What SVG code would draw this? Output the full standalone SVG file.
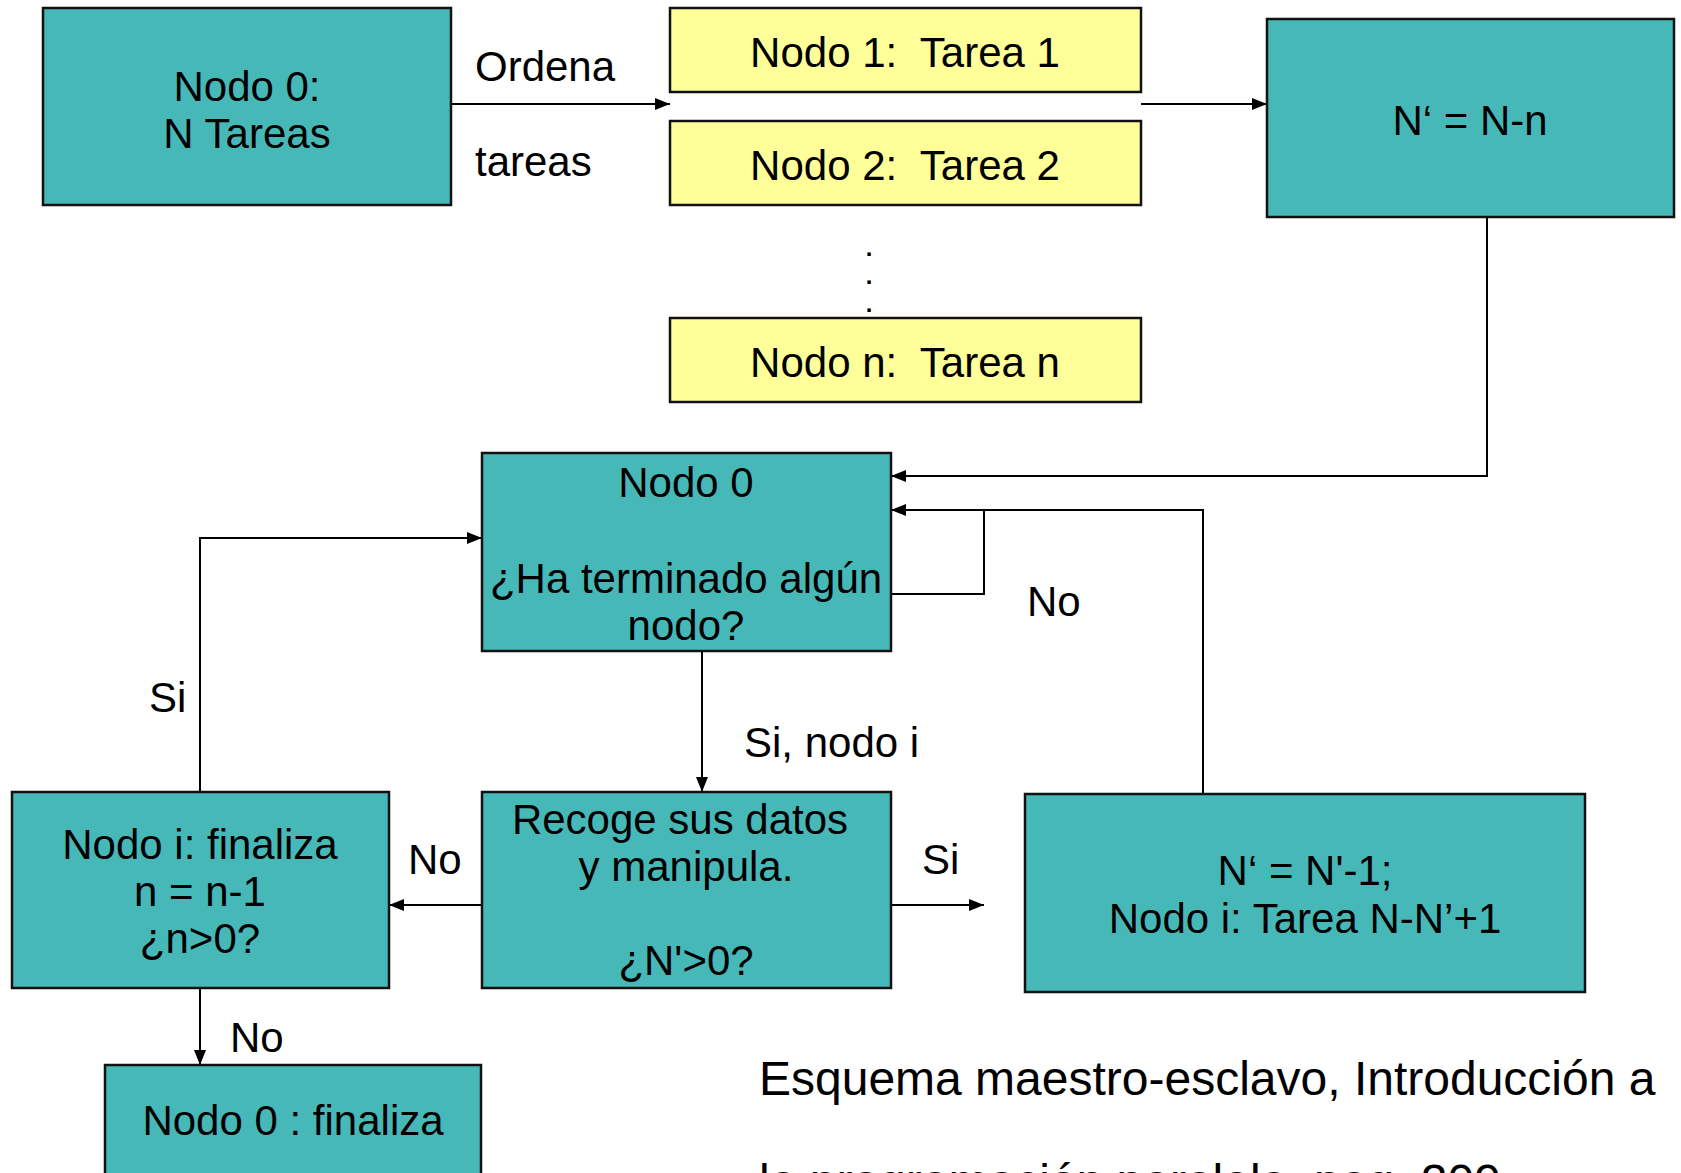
<svg xmlns="http://www.w3.org/2000/svg" width="1681" height="1173" viewBox="0 0 1681 1173">
<style>
text{font-family:"Liberation Sans",Arial,sans-serif;font-size:42px;fill:#000;white-space:pre}
.c{text-anchor:middle}
.teal{fill:#47b8b8;stroke:#111;stroke-width:2.5}
.yel{fill:#ffff99;stroke:#111;stroke-width:2.5}
.ln{fill:none;stroke:#000;stroke-width:2}
.cap{font-size:48px}
.dot{font-size:24px;font-weight:bold}
</style>
<defs>
<marker id="ah" viewBox="0 0 15 12" refX="15" refY="6" markerWidth="15" markerHeight="12" markerUnits="userSpaceOnUse" orient="auto">
<path d="M0,0 L15,6 L0,12 Z" fill="#000"/>
</marker>
</defs>
<g id="connectors">
<path class="ln" d="M451,104 H670" marker-end="url(#ah)"/>
<path class="ln" d="M1141,104 H1267" marker-end="url(#ah)"/>
<path class="ln" d="M1487,217 V476 H891" marker-end="url(#ah)"/>
<path class="ln" d="M1203,793 V510 H891" marker-end="url(#ah)"/>
<path class="ln" d="M891,594 H984 V510"/>
<path class="ln" d="M702,651 V792" marker-end="url(#ah)"/>
<path class="ln" d="M482,905 H389" marker-end="url(#ah)"/>
<path class="ln" d="M891,905 H984" marker-end="url(#ah)"/>
<path class="ln" d="M200,792 V538 H482" marker-end="url(#ah)"/>
<path class="ln" d="M200,988 V1065" marker-end="url(#ah)"/>
<text x="475" y="81">Ordena</text>
<text x="475" y="176">tareas</text>
<text x="1027" y="616">No</text>
<text x="149" y="712">Si</text>
<text x="744" y="757">Si, nodo i</text>
<text x="408" y="874">No</text>
<text x="922" y="874">Si</text>
<text x="230" y="1052">No</text>
</g>
<g id="n0">
<rect class="teal" x="43" y="8" width="408" height="197"/>
<text class="c" x="247" y="101">Nodo 0:</text>
<text class="c" x="247" y="148">N Tareas</text>
</g>
<g id="n1">
<rect class="yel" x="670" y="8" width="471" height="84"/>
<text class="c" x="905" y="67">Nodo 1:  Tarea 1</text>
</g>
<g id="n2">
<rect class="yel" x="670" y="121" width="471" height="84"/>
<text class="c" x="905" y="180">Nodo 2:  Tarea 2</text>
</g>
<g id="dots">
<text class="c dot" x="869" y="256">.</text>
<text class="c dot" x="869" y="284">.</text>
<text class="c dot" x="869" y="312">.</text>
</g>
<g id="nn">
<rect class="yel" x="670" y="318" width="471" height="84"/>
<text class="c" x="905" y="377">Nodo n:  Tarea n</text>
</g>
<g id="nprime">
<rect class="teal" x="1267" y="19" width="407" height="198"/>
<text class="c" x="1470" y="135">N‘ = N-n</text>
</g>
<g id="q0">
<rect class="teal" x="482" y="453" width="409" height="198"/>
<text class="c" x="686" y="497">Nodo 0</text>
<text class="c" x="686" y="593">¿Ha terminado algún</text>
<text class="c" x="686" y="640">nodo?</text>
</g>
<g id="ni">
<rect class="teal" x="12" y="792" width="377" height="196"/>
<text class="c" x="200" y="859">Nodo i: finaliza</text>
<text class="c" x="200" y="906">n = n-1</text>
<text class="c" x="200" y="953">¿n&gt;0?</text>
</g>
<g id="recoge">
<rect class="teal" x="482" y="792" width="409" height="196"/>
<text class="c" x="680" y="834">Recoge sus datos</text>
<text class="c" x="686" y="881">y manipula.</text>
<text class="c" x="686" y="975">¿N'&gt;0?</text>
</g>
<g id="nupd">
<rect class="teal" x="1025" y="794" width="560" height="198"/>
<text class="c" x="1305" y="885">N‘ = N'-1;</text>
<text class="c" x="1305" y="933">Nodo i: Tarea N-N’+1</text>
</g>
<g id="nend">
<rect class="teal" x="105" y="1065" width="376" height="140"/>
<text class="c" x="293" y="1135">Nodo 0 : finaliza</text>
</g>
<g id="caption">
<text class="cap" x="759" y="1095">Esquema maestro-esclavo, Introducción a</text>
<text class="cap" x="759" y="1198">la programación paralela, pag. 209</text>
</g>
</svg>
